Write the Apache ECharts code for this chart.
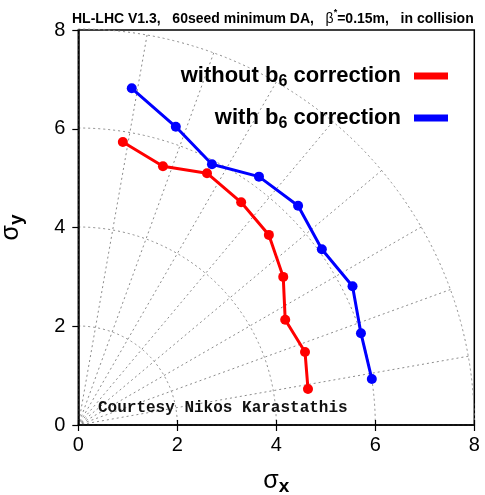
<!DOCTYPE html>
<html>
<head>
<meta charset="utf-8">
<script src="https://cdn.jsdelivr.net/npm/echarts@6/dist/echarts.min.js"></script>
<style>
html,body{margin:0;padding:0;background:#fff;}
#c{width:485px;height:495px;}
</style>
</head>
<body>
<div id="c"></div>
<script>
// Data (sigma_x, sigma_y)
const withoutB6X = [0.90, 1.71, 2.60, 3.29, 3.85, 4.14, 4.18, 4.58, 4.64];
const withoutB6Y = [5.73, 5.24, 5.10, 4.51, 3.85, 3.00, 2.13, 1.48, 0.73];
const withB6X = [1.08, 1.97, 2.70, 3.65, 4.44, 4.92, 5.54, 5.71, 5.93];
const withB6Y = [6.82, 6.04, 5.28, 5.03, 4.44, 3.56, 2.81, 1.86, 0.93];
const xTicks = [0, 2, 4, 6, 8];
const yTicks = [0, 2, 4, 6, 8];
const seriesNames = ['without b6 correction', 'with b6 correction'];

const FONT = '"Liberation Sans", Arial, Helvetica, sans-serif';
const chart = echarts.init(document.getElementById('c'), null, {renderer: 'canvas'});

function pairs(xs, ys) { return xs.map((x, i) => [x, ys[i]]); }

const gridL = 78.3, gridR = 10.7, gridT = 30, gridB = 70;
const W = 485, H = 495;
const plotW = W - gridL - gridR, plotH = H - gridT - gridB;

const dotted = {color: '#8c8c8c', width: 1, type: [2, 3]};

const option = {
  animation: false,
  backgroundColor: '#fff',
  title: {
    left: 67, top: 3,
    text: '{a|HL-LHC V1.3,   60seed minimum DA,   }{b|β}{s|*}{a|=0.15m,   in collision}',
    textStyle: {
      rich: {
        a: {fontFamily: FONT, fontWeight: 'bold', fontSize: 14, color: '#000', lineHeight: 18, verticalAlign: 'bottom'},
        b: {fontFamily: FONT, fontWeight: 'normal', fontSize: 14, color: '#000', lineHeight: 18, verticalAlign: 'bottom'},
        s: {fontFamily: FONT, fontWeight: 'bold', fontSize: 9, color: '#000', lineHeight: 18, verticalAlign: 'top'}
      }
    }
  },
  legend: {
    orient: 'vertical',
    align: 'right',
    right: 32,
    top: 60,
    itemWidth: 34,
    itemHeight: 7,
    itemGap: 17,
    data: [
      {name: seriesNames[0], icon: 'rect'},
      {name: seriesNames[1], icon: 'rect'}
    ],
    formatter: function (n) {
      return n === seriesNames[0]
        ? '{m|without b}{sub|6}{m| correction}'
        : '{m|with b}{sub|6}{m| correction}';
    },
    textStyle: {
      padding: [0, 8, 0, 0],
      rich: {
        m: {fontFamily: FONT, fontWeight: 'bold', fontSize: 22, color: '#000', lineHeight: 28, verticalAlign: 'middle'},
        sub: {fontFamily: FONT, fontWeight: 'bold', fontSize: 16, color: '#000', lineHeight: 16, verticalAlign: 'bottom'}
      }
    }
  },
  grid: {
    left: gridL, right: gridR, top: gridT, bottom: gridB,
    outerBoundsMode: 'none', containLabel: false,
    show: true, borderColor: '#000', borderWidth: 1.5, backgroundColor: 'transparent'
  },
  polar: {
    center: [gridL, gridT + plotH],
    radius: plotW
  },
  angleAxis: {
    type: 'value', min: 0, max: 90, interval: 10,
    startAngle: 90, endAngle: 0, clockwise: true,
    axisLine: {show: false}, axisTick: {show: false}, axisLabel: {show: false},
    splitLine: {show: true, lineStyle: dotted}, z: 0
  },
  radiusAxis: {
    type: 'value', min: 0, max: 8, interval: 2,
    axisLine: {show: false}, axisTick: {show: false}, axisLabel: {show: false},
    splitLine: {show: true, lineStyle: dotted}, z: 0
  },
  xAxis: [{
    type: 'value', min: xTicks[0], max: xTicks[xTicks.length - 1], interval: 2,
    axisLine: {show: true, onZero: false, lineStyle: {color: '#000', width: 1.5}},
    axisTick: {show: true, length: 6, inside: false, lineStyle: {color: '#000', width: 1.2}},
    axisLabel: {fontFamily: FONT, fontSize: 20, color: '#000', margin: 10},
    splitLine: {show: false},
    name: '{s|σ}{sub|x}',
    nameLocation: 'middle',
    nameGap: 41,
    nameTextStyle: {
      rich: {
        s: {fontFamily: FONT, fontSize: 25, color: '#000', lineHeight: 30, verticalAlign: 'middle'},
        sub: {fontFamily: FONT, fontWeight: 'bold', fontSize: 19, color: '#000', lineHeight: 20, verticalAlign: 'bottom'}
      }
    }
  }, {
    type: 'value', min: xTicks[0], max: xTicks[xTicks.length - 1], interval: 2,
    position: 'bottom',
    axisLine: {show: false},
    axisTick: {show: true, length: 5, inside: true, lineStyle: {color: '#000', width: 1.2}},
    axisLabel: {show: false},
    splitLine: {show: false}
  }],
  yAxis: {
    type: 'value', min: yTicks[0], max: yTicks[yTicks.length - 1], interval: 2,
    axisLine: {show: true, onZero: false, lineStyle: {color: '#000', width: 1.5}},
    axisTick: {show: true, length: 6, inside: false, lineStyle: {color: '#000', width: 1.2}},
    axisLabel: {fontFamily: FONT, fontSize: 20, color: '#000', margin: 13},
    splitLine: {show: false},
    name: '{s|σ}{sub|y}',
    nameLocation: 'middle',
    nameGap: 52,
    nameRotate: 90,
    nameTextStyle: {
      rich: {
        s: {fontFamily: FONT, fontSize: 25, color: '#000', lineHeight: 30, verticalAlign: 'middle'},
        sub: {fontFamily: FONT, fontWeight: 'bold', fontSize: 19, color: '#000', lineHeight: 20, verticalAlign: 'bottom'}
      }
    }
  },
  graphic: [{
    type: 'text', left: 98, top: 400, z: 10,
    style: {
      text: 'Courtesy Nikos Karastathis',
      font: 'bold 16px "Liberation Mono", "Courier New", monospace',
      fill: '#111'
    }
  }],
  series: [{
    name: seriesNames[0], type: 'line', xAxisIndex: 0, yAxisIndex: 0,
    data: pairs(withoutB6X, withoutB6Y),
    color: '#ff0000',
    lineStyle: {width: 3, color: '#ff0000'},
    itemStyle: {color: '#ff0000'},
    symbol: 'circle', symbolSize: 10, showSymbol: true, z: 5
  }, {
    name: seriesNames[1], type: 'line', xAxisIndex: 0, yAxisIndex: 0,
    data: pairs(withB6X, withB6Y),
    color: '#0000ff',
    lineStyle: {width: 3, color: '#0000ff'},
    itemStyle: {color: '#0000ff'},
    symbol: 'circle', symbolSize: 10, showSymbol: true, z: 5
  }]
};
chart.setOption(option);
</script>
</body>
</html>
